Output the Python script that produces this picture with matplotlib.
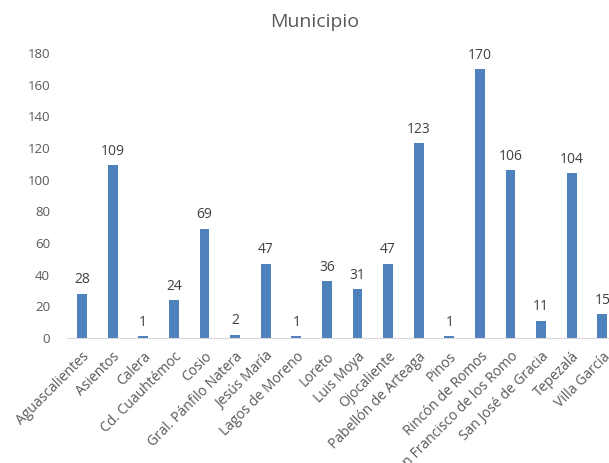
import matplotlib
matplotlib.use("Agg")
import matplotlib.pyplot as plt

categories = ["Aguascalientes", "Asientos", "Calera", "Cd. Cuauhtémoc", "Cosio",
              "Gral. Pánfilo Natera", "Jesús María", "Lagos de Moreno", "Loreto",
              "Luis Moya", "Ojocaliente", "Pabellón de Arteaga", "Pinos",
              "Rincón de Romos", "San Francisco de los Romo", "San José de Gracia",
              "Tepezalá", "Villa García"]
values = [28, 109, 1, 24, 69, 2, 47, 1, 36, 31, 47, 123, 1, 170, 106, 11, 104, 15]
yticks = [0, 20, 40, 60, 80, 100, 120, 140, 160, 180]

plt.rcParams['font.family'] = ['Open Sans', 'DejaVu Sans']
txt = '#595959'

fig = plt.figure(figsize=(6.09, 4.63), dpi=100)
ax = fig.add_axes([66.7/609, 125/463, 551/609, 285/463])
x = list(range(len(categories)))
ax.bar(x, values, width=0.32, color='#4F81BD')
for xi, v in zip(x, values):
    ax.text(xi, v + 4, str(v), ha='center', va='bottom', fontsize=10, color='#404040')

ax.set_xlim(-0.5, len(categories) - 0.5)
ax.set_ylim(0, 180)
ax.set_yticks(yticks)
ax.set_yticklabels([str(t) for t in yticks], fontsize=9.5, color=txt)
ax.set_xticks(x)
ax.set_xticklabels(categories, rotation=45, ha='right', rotation_mode='anchor',
                   fontsize=10, color=txt)
for s in ['top', 'right', 'left']:
    ax.spines[s].set_visible(False)
ax.spines['bottom'].set_color('#D9D9D9')
ax.tick_params(axis='both', length=0)
ax.tick_params(axis='y', pad=12)
ax.tick_params(axis='x', pad=8)

fig.text(315/609, 1 - 22/463, "Municipio", ha='center', va='center',
         fontsize=14, color=txt)

fig.savefig("out.png", dpi=100)
